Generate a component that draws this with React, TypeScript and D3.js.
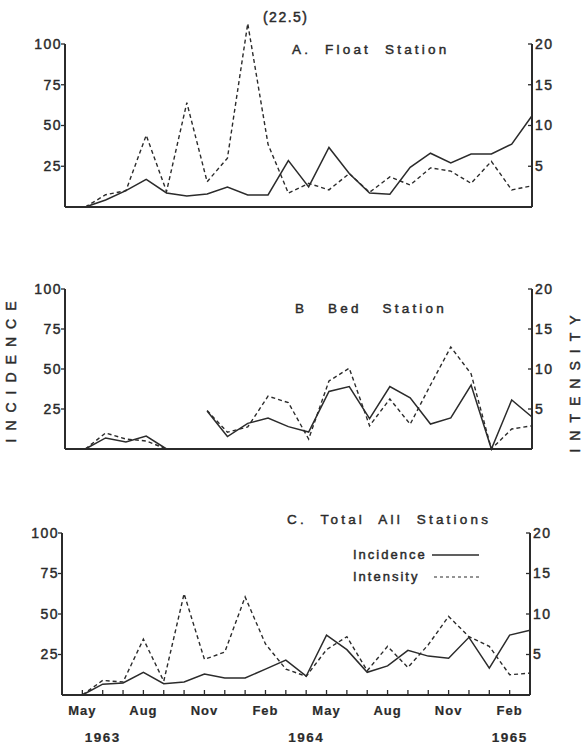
import React from "react";
import * as d3 from "d3";

// months from May 1963 to Mar 1965 (index 0..22)
const months = [
  "May 1963", "Jun 1963", "Jul 1963", "Aug 1963", "Sep 1963", "Oct 1963", "Nov 1963", "Dec 1963",
  "Jan 1964", "Feb 1964", "Mar 1964", "Apr 1964", "May 1964", "Jun 1964", "Jul 1964", "Aug 1964",
  "Sep 1964", "Oct 1964", "Nov 1964", "Dec 1964", "Jan 1965", "Feb 1965", "Mar 1965",
];

const floatIncidence = [0, 4.3, 10, 17, 8.6, 6.7, 8, 12.3, 7.4, 7.4, 28.5, 12.3, 36.5, 20.5, 8.6, 7.8, 24.3, 33, 27, 32.5, 32.5, 38.6, 56];
const floatIntensity = [0, 1.5, 2.0, 8.8, 1.9, 12.8, 3.1, 6.0, 22.5, 7.7, 1.7, 2.9, 2.1, 4.1, 1.8, 3.7, 2.7, 4.8, 4.4, 2.9, 5.6, 2.1, 2.6];

const bedIncidence = [0, 6.9, 4.4, 8.1, 0, null, 23.8, 7.8, 16, 19.4, 14, 10.6, 36, 39, 19, 39, 32, 15.6, 19.4, 40, 0, 30.6, 20];
const bedIntensity = [0, 2.0, 1.25, 1.0, 0, null, 4.8, 2.1, 2.75, 6.6, 5.8, 1.25, 8.5, 10.1, 2.9, 6.25, 3.1, 8.0, 12.75, 9.4, 0, 2.5, 2.9];

const totalIncidence = [0, 6.7, 7.4, 14, 7, 8, 13, 10.5, 10.5, 16, 21.5, 11.6, 37, 28, 14, 18, 27.6, 24, 22.7, 35.6, 16.6, 37, 40];
const totalIntensity = [0, 1.8, 1.6, 6.9, 1.7, 12.5, 4.4, 5.3, 12.1, 6.3, 3.2, 2.3, 5.6, 7.2, 3.0, 6.0, 3.4, 6.2, 9.7, 7.2, 6.0, 2.5, 2.7];

const leftTicks = [25, 50, 75, 100];
const rightTicks = [5, 10, 15, 20];
const monthTicks = [
  { i: 0, label: "May" }, { i: 3, label: "Aug" }, { i: 6, label: "Nov" }, { i: 9, label: "Feb" },
  { i: 12, label: "May" }, { i: 15, label: "Aug" }, { i: 18, label: "Nov" }, { i: 21, label: "Feb" },
];
const yearTicks = [{ i: 1, label: "1963" }, { i: 11, label: "1964" }, { i: 21, label: "1965" }];

const panels = [
  { key: "A", title: "A.  Float  Station", incidence: floatIncidence, intensity: floatIntensity,
    x0: 65, x1: 532, y0: 207, y1: 44, titleX: 292, titleY: 54, note: "(22.5)" },
  { key: "B", title: "B   Bed   Station", incidence: bedIncidence, intensity: bedIntensity,
    x0: 65, x1: 532, y0: 449, y1: 289, titleX: 295, titleY: 313 },
  { key: "C", title: "C.  Total  All  Stations", incidence: totalIncidence, intensity: totalIntensity,
    x0: 62, x1: 530, y0: 695, y1: 533, titleX: 287, titleY: 524 },
];

const ink = "#2b2b2b";
const font = "'Liberation Sans', Arial, sans-serif";
// slight outline to thicken the type like the printed original
const txt = { fill: ink, stroke: ink, strokeWidth: 0.45, fontFamily: font };

const Panel = ({ p }) => {
  const x = d3.scaleLinear().domain([-1, months.length - 1]).range([p.x0, p.x1]);
  const yL = d3.scaleLinear().domain([0, 100]).range([p.y0, p.y1]);
  const yR = d3.scaleLinear().domain([0, 20]).range([p.y0, p.y1]);

  const incLine = d3.line()
    .defined((d) => d != null)
    .x((d, i) => x(i))
    .y((d) => yL(d));
  const intLine = d3.line()
    .defined((d) => d != null)
    .x((d, i) => x(i))
    .y((d) => yR(d));

  const isC = p.key === "C";

  return (
    <g>
      {/* axes */}
      <line x1={p.x0} x2={p.x0} y1={p.y0} y2={yL(100)} stroke={ink} strokeWidth={2} />
      <line x1={p.x1} x2={p.x1} y1={p.y0} y2={yR(20)} stroke={ink} strokeWidth={2} />
      <line x1={p.x0} x2={p.x1} y1={p.y0} y2={p.y0} stroke={ink} strokeWidth={2} />
      {leftTicks.map((t) => (
        <g key={"l" + t}>
          <line x1={p.x0 - 4} x2={p.x0} y1={yL(t)} y2={yL(t)} stroke={ink} strokeWidth={1.3} />
          <text x={p.x0 - 3} y={yL(t)} dy="0.35em" textAnchor="end" fontSize={14}
            letterSpacing={1.5} {...txt}>{t}</text>
        </g>
      ))}
      {rightTicks.map((t) => (
        <g key={"r" + t}>
          <line x1={p.x1 - 4} x2={p.x1} y1={yR(t)} y2={yR(t)} stroke={ink} strokeWidth={1.3} />
          <text x={p.x1 + 3} y={yR(t)} dy="0.35em" textAnchor="start" fontSize={14}
            letterSpacing={1.5} {...txt}>{t}</text>
        </g>
      ))}
      {isC &&
        months.map((m, i) => (
          <line key={m} x1={x(i)} x2={x(i)} y1={p.y0} y2={p.y0 - 5} stroke={ink} strokeWidth={1.3} />
        ))}
      {isC &&
        monthTicks.map((t) => (
          <text key={"m" + t.i} x={x(t.i)} y={p.y0 + 20} textAnchor="middle" fontSize={13}
            fontWeight="bold" letterSpacing={1} {...txt} strokeWidth={0.2}>{t.label}</text>
        ))}
      {isC &&
        yearTicks.map((t) => (
          <text key={"y" + t.i} x={x(t.i)} y={p.y0 + 47} textAnchor="middle" fontSize={13.5}
            fontWeight="bold" letterSpacing={1.5} {...txt} strokeWidth={0.2}>{t.label}</text>
        ))}

      {/* series */}
      <path d={incLine(p.incidence)} fill="none" stroke={ink} strokeWidth={1.5} />
      <path d={intLine(p.intensity)} fill="none" stroke={ink} strokeWidth={1.4} strokeDasharray="4,3" />

      <text x={p.titleX} y={p.titleY} fontSize={13.5} letterSpacing={3.2} {...txt}
        style={{ whiteSpace: "pre" }}>{p.title}</text>
      {p.note && (
        <text x={x(8) + 38} y={22} textAnchor="middle" fontSize={14} letterSpacing={1.5}
          {...txt}>{p.note}</text>
      )}

      {isC && (
        <g>
          <text x={353} y={559} fontSize={13} letterSpacing={2} {...txt}>Incidence</text>
          <line x1={432} x2={479} y1={555} y2={555} stroke={ink} strokeWidth={1.3} />
          <text x={353} y={581} fontSize={13} letterSpacing={2} {...txt}>Intensity</text>
          <line x1={434} x2={479} y1={577} y2={577} stroke={ink} strokeWidth={1.2} strokeDasharray="3,3" />
        </g>
      )}
    </g>
  );
};

export default function App() {
  return (
    <svg width={586} height={746} style={{ position: "absolute", left: 0, top: 0, background: "#fff" }}>
      <rect width={586} height={746} fill="#fff" />
      {panels.map((p) => (
        <Panel key={p.key} p={p} />
      ))}
      <text transform="translate(16,368) rotate(-90)" textAnchor="middle" fontSize={14}
        letterSpacing={8} {...txt}>INCIDENCE</text>
      <text transform="translate(580,380) rotate(-90)" textAnchor="middle" fontSize={14}
        letterSpacing={8} {...txt}>INTENSITY</text>
    </svg>
  );
}
